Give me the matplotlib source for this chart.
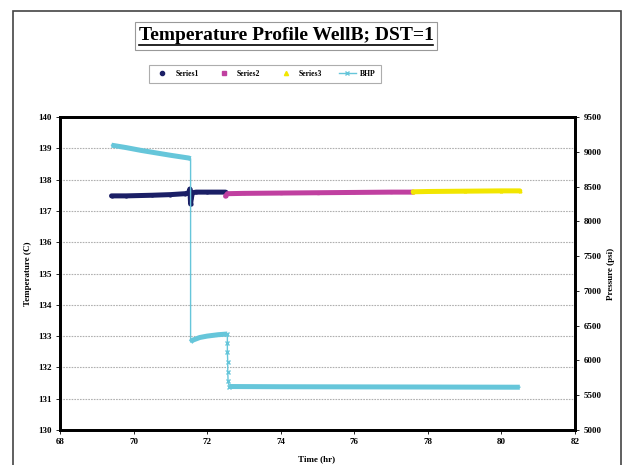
import numpy as np
import matplotlib.pyplot as plt
from matplotlib.lines import Line2D
from matplotlib.patches import Rectangle

plt.rcParams['font.family'] = ['Liberation Serif', 'DejaVu Serif']
plt.rcParams['font.weight'] = 'bold'

# gauge temperatures (C) vs time (hr)
s1_time = [69.4, 69.8, 70.5, 71.0, 71.4, 71.5, 71.53, 71.55, 71.57, 71.6, 71.7, 72.0, 72.5]
s1_temp = [137.48, 137.48, 137.5, 137.52, 137.55, 137.58, 137.7, 137.22, 137.4, 137.58, 137.6, 137.6, 137.6]

s2_time = [72.5, 72.55, 73.0, 74.0, 75.0, 76.0, 77.0, 77.6]
s2_temp = [137.47, 137.55, 137.56, 137.57, 137.58, 137.59, 137.6, 137.6]

s3_time = [77.6, 78.0, 79.0, 80.0, 80.5]
s3_temp = [137.61, 137.62, 137.63, 137.64, 137.64]

# bottom hole pressure (psi)
bhp_time = [69.4, 69.8, 70.2, 70.6, 71.0, 71.5, 71.55, 71.55, 71.6, 71.8, 72.0, 72.3, 72.55,
            72.55, 72.55, 72.56, 72.56, 72.57, 72.6, 74.0, 76.0, 78.0, 80.5]
bhp_psi = [9095, 9060, 9020, 8985, 8950, 8910, 8900, 6265, 6290, 6330, 6350, 6370, 6380,
           6250, 6120, 5980, 5840, 5700, 5625, 5622, 5620, 5618, 5615]

temp_ticks = np.arange(130, 141, 1)
psi_ticks = np.arange(5000, 9501, 500)
time_ticks = np.arange(68, 83, 2)

fig = plt.figure(figsize=(6.27, 4.65), dpi=100)
fig.patch.set_facecolor('white')

W, H = 627, 465

# outer chart frame
fig.add_artist(Rectangle((13 / W, -0.05), 608 / W, 1.05 - 11 / H,
                         transform=fig.transFigure, fill=False,
                         edgecolor='#444444', linewidth=1.2))

ax = fig.add_axes([60 / W, 1 - 430 / H, 515 / W, 313 / H])
ax2 = ax.twinx()

ax.plot(s1_time, s1_temp, color='#1b1f66', linewidth=3.6, solid_capstyle='round',
        marker='o', markersize=2)
ax.plot(s2_time, s2_temp, color='#c040a0', linewidth=3.6, solid_capstyle='round',
        marker='s', markersize=2)
ax.plot(s3_time, s3_temp, color='#f2e600', linewidth=3.6, solid_capstyle='round',
        marker='^', markersize=2)

# thin vertical jumps, thick flat runs
ax2.plot(bhp_time, bhp_psi, color='#66c6da', linewidth=1.0)
for a, b in [(0, 7), (7, 13), (18, 23)]:
    ax2.plot(bhp_time[a:b], bhp_psi[a:b], color='#66c6da', linewidth=3.6,
             solid_capstyle='butt')
ax2.plot(bhp_time[12:19], bhp_psi[12:19], linestyle='none', marker='x',
         markersize=3, color='#66c6da', markeredgewidth=1)

ax.set_xlim(68, 82)
ax.set_ylim(130, 140)
ax2.set_ylim(5000, 9500)
ax.set_xticks(time_ticks)
ax.set_yticks(temp_ticks)
ax2.set_yticks(psi_ticks)
ax.tick_params(labelsize=6.5, length=3, width=0.6, pad=3)
ax2.tick_params(labelsize=6.5, length=3, width=0.6, pad=3)

ax.grid(axis='y', color='#b0b0b0', linestyle=(0, (1.5, 1)), linewidth=0.8)
ax.set_axisbelow(True)
for a in (ax, ax2):
    for s in a.spines.values():
        s.set_linewidth(2)

# axis titles
fig.text(317 / W, 1 - 459 / H, 'Time (hr)', ha='center', va='center',
         fontsize=6.5, fontweight='bold')
fig.text(28 / W, 1 - 274 / H, 'Temperature (C)', ha='center', va='center',
         rotation=90, fontsize=6.5, fontweight='bold')
fig.text(611 / W, 1 - 274 / H, 'Pressure (psi)', ha='center', va='center',
         rotation=90, fontsize=6.5, fontweight='bold')

# boxed, underlined title
fig.add_artist(Rectangle((135 / W, 1 - 50 / H), 302 / W, 28 / H,
                         transform=fig.transFigure, facecolor='white',
                         edgecolor='#999999', linewidth=0.8))
fig.text(286 / W, 1 - 36 / H, 'Temperature Profile WellB; DST=1',
         ha='center', va='center', fontsize=14, fontweight='bold')
fig.add_artist(Line2D([139 / W, 433 / W], [1 - 45.5 / H, 1 - 45.5 / H],
                      transform=fig.transFigure, color='black', linewidth=1.2))

handles = [
    Line2D([], [], linestyle='none', marker='o', markersize=3, color='#1b1f66'),
    Line2D([], [], linestyle='none', marker='s', markersize=3, color='#c040a0'),
    Line2D([], [], linestyle='none', marker='^', markersize=3, color='#f2e600'),
    Line2D([], [], color='#66c6da', marker='x', markersize=3, linewidth=1),
]
leg = fig.legend(handles, ['Series1', 'Series2', 'Series3', 'BHP'], ncol=4,
                 loc='center', bbox_to_anchor=(265 / W, 1 - 74 / H),
                 fontsize=5.5, frameon=True, fancybox=False, handlelength=2.2,
                 columnspacing=2.2, borderpad=0.6, handletextpad=0.6)
leg.get_frame().set_edgecolor('#999999')
leg.get_frame().set_linewidth(0.8)

fig.savefig('out.png', dpi=100)
